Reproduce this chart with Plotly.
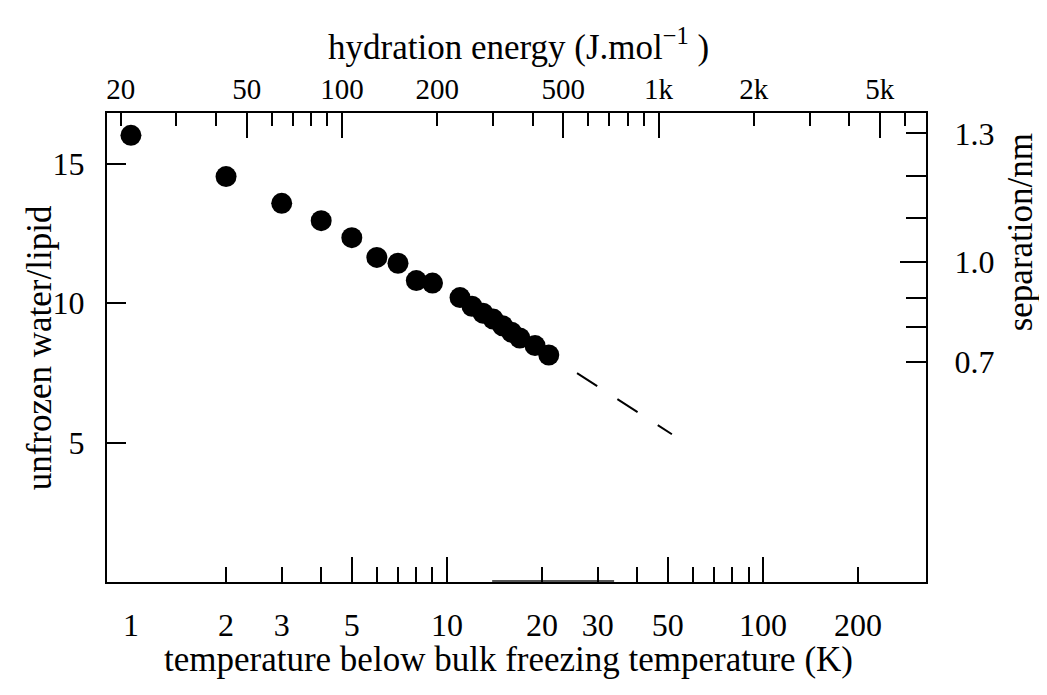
import math
import plotly.graph_objects as go

# ---- data ----
temperature_K = [1, 2, 3, 4, 5, 6, 7, 8, 9, 11, 12, 13, 14, 15, 16, 17, 19, 21]
unfrozen_water = [16.02, 14.54, 13.58, 12.96, 12.35, 11.64, 11.43, 10.81, 10.72,
                  10.20, 9.89, 9.64, 9.43, 9.19, 8.96, 8.75, 8.48, 8.14]

fit_T = [25.8, 51.5]
fit_water = [7.49, 5.30]

# thicker stretch of the bottom frame seen in the original drawing
frame_patch_T = [13.9, 33.8]
frame_patch_y = [0, 0]

bottom_label_vals = [1, 2, 3, 5, 10, 20, 30, 50, 100, 200]
bottom_label_text = ["1", "2", "3", "5", "10", "20", "30", "50", "100", "200"]
bottom_short_ticks = [2, 3, 4, 6, 7, 8, 9, 20, 30, 40, 60, 70, 80, 90, 200]
bottom_long_ticks = [5, 10, 50, 100]

top_label_vals = [20, 50, 100, 200, 500, 1000, 2000, 5000]
top_label_text = ["20", "50", "100", "200", "500", "1k", "2k", "5k"]
top_short_ticks = [20, 30, 40, 60, 70, 80, 90, 200, 300, 400, 600, 700, 800, 900,
                   2000, 3000, 4000, 6000]
top_long_ticks = [50, 100, 500, 1000, 5000]

left_tick_vals = [5, 10, 15]

# separation axis (non-linear): tick positions expressed in water/lipid units
sep_tick_pos = [16.09, 14.55, 13.05, 11.47, 10.18, 9.14, 7.89]
sep_tick_text = ["1.3", "", "", "1.0", "", "", "0.7"]
sep_long_tick_pos = [11.47]

x_range_T = [0.84, 328]
x_range_E = [18.1, 7000]
y_range = [0, 16.82]

# ---- figure ----
FONT = "'Liberation Serif', 'Times New Roman', Times, serif"
TICK_SIZE = 32
TOP_TICK_SIZE = 29
TITLE_SIZE = 35
fig = go.Figure()

fig.add_trace(go.Scatter(
    x=frame_patch_T, y=frame_patch_y, mode="lines",
    line=dict(color="#555555", width=4), cliponaxis=False,
    xaxis="x", yaxis="y", showlegend=False, hoverinfo="skip"))

fig.add_trace(go.Scatter(
    x=fit_T, y=fit_water, mode="lines",
    line=dict(color="black", width=2, dash="24px,24px"),
    xaxis="x", yaxis="y", showlegend=False, hoverinfo="skip"))

fig.add_trace(go.Scatter(
    x=temperature_K, y=unfrozen_water, mode="markers",
    marker=dict(color="black", size=21, line=dict(width=0)),
    xaxis="x", yaxis="y", showlegend=False))

# invisible traces so that every auxiliary axis is drawn
for xa, ya in [("x2", "y"), ("x3", "y"), ("x4", "y"), ("x", "y2"), ("x", "y3")]:
    fig.add_trace(go.Scatter(x=[None], y=[None], mode="markers", xaxis=xa, yaxis=ya,
                             showlegend=False, hoverinfo="skip"))

lx = [math.log10(v) for v in x_range_T]
le = [math.log10(v) for v in x_range_E]

tf = dict(family=FONT, size=TICK_SIZE, color="black")
common = dict(showgrid=False, zeroline=False)
fig.update_layout(
    width=1031, height=679,
    margin=dict(l=99, r=113, t=105, b=105),
    plot_bgcolor="white", paper_bgcolor="white",
    font=dict(family=FONT, size=TICK_SIZE, color="black"),
    xaxis=dict(type="log", range=lx, showline=True, linecolor="black", linewidth=2,
               tickmode="array", tickvals=bottom_label_vals, ticktext=bottom_label_text,
               ticks="", ticklabelstandoff=14, tickfont=tf, **common),
    xaxis3=dict(type="log", range=lx, overlaying="x", side="bottom", anchor="y",
                tickmode="array", tickvals=bottom_long_ticks, ticks="inside", ticklen=25,
                tickwidth=2, tickcolor="black", showticklabels=False, showline=False,
                minor=dict(tickmode="array", tickvals=bottom_short_ticks, ticks="inside",
                           ticklen=15, tickwidth=2, tickcolor="black"), **common),
    xaxis2=dict(type="log", range=le, overlaying="x", side="top", anchor="y",
                showline=True, linecolor="black", linewidth=2,
                tickmode="array", tickvals=top_label_vals, ticktext=top_label_text,
                ticks="", ticklabelstandoff=0,
                tickfont=dict(family=FONT, size=TOP_TICK_SIZE, color="black"), **common),
    xaxis4=dict(type="log", range=le, overlaying="x", side="top", anchor="y",
                tickmode="array", tickvals=top_long_ticks, ticks="inside", ticklen=25,
                tickwidth=2, tickcolor="black", showticklabels=False, showline=False,
                minor=dict(tickmode="array", tickvals=top_short_ticks, ticks="inside",
                           ticklen=13, tickwidth=2, tickcolor="black"), **common),
    yaxis=dict(range=y_range, showline=True, linecolor="black", linewidth=2,
               tickmode="array", tickvals=left_tick_vals, ticks="inside", ticklen=19,
               tickwidth=2, tickcolor="black", ticklabelstandoff=14,
               tickfont=tf, **common),
    yaxis2=dict(range=y_range, overlaying="y", side="right", anchor="x",
                showline=True, linecolor="black", linewidth=2,
                tickmode="array", tickvals=sep_tick_pos, ticktext=sep_tick_text,
                ticks="inside", ticklen=20, tickwidth=2, tickcolor="black",
                ticklabelstandoff=20, tickfont=tf, **common),
    yaxis3=dict(range=y_range, overlaying="y", side="right", anchor="x",
                tickmode="array", tickvals=sep_long_tick_pos, ticks="inside", ticklen=26,
                tickwidth=2, tickcolor="black", showticklabels=False, showline=False,
                **common),
)

title_font = dict(family=FONT, size=TITLE_SIZE, color="black")
fig.add_annotation(text="temperature below bulk freezing temperature (K)",
                   xref="paper", yref="paper", x=0.49, y=-0.166, xanchor="center",
                   yanchor="middle", showarrow=False, font=title_font)
fig.add_annotation(text="hydration energy (J.mol<sup>\u22121</sup> )",
                   xref="paper", yref="paper", x=0.503, y=1.145, xanchor="center",
                   yanchor="middle", showarrow=False, font=title_font)
fig.add_annotation(text="unfrozen water/lipid", textangle=-90,
                   xref="paper", yref="paper", x=-0.082, y=0.5, xanchor="center",
                   yanchor="middle", showarrow=False, font=title_font)
fig.add_annotation(text="separation/nm", textangle=-90,
                   xref="paper", yref="paper", x=1.115, y=0.746, xanchor="center",
                   yanchor="middle", showarrow=False, font=title_font)

fig.write_html("out.html")
